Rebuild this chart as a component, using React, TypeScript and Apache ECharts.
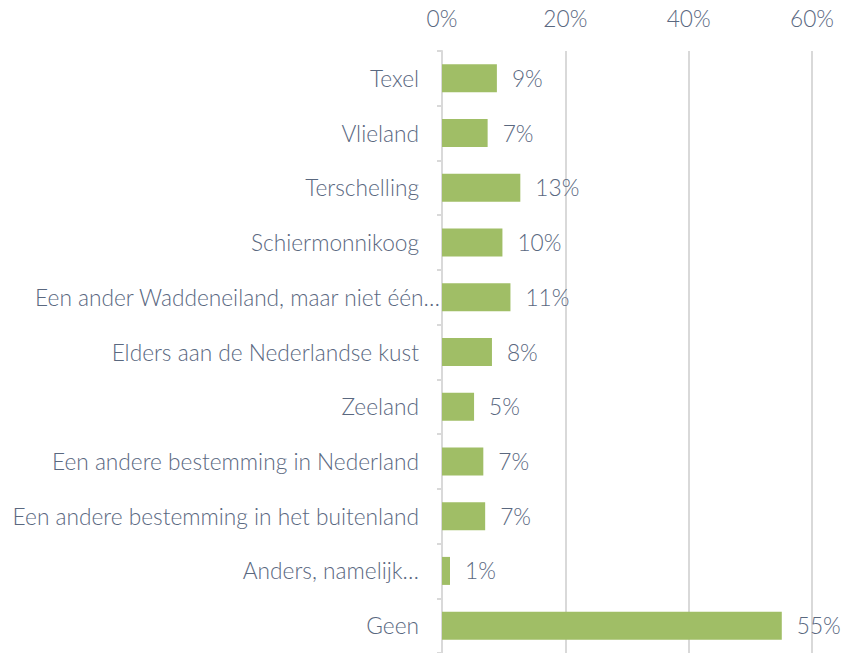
import React, { useEffect, useRef } from "react";
import * as echarts from "echarts";

const categories = [
  "Texel",
  "Vlieland",
  "Terschelling",
  "Schiermonnikoog",
  "Een ander Waddeneiland, maar niet één…",
  "Elders aan de Nederlandse kust",
  "Zeeland",
  "Een andere bestemming in Nederland",
  "Een andere bestemming in het buitenland",
  "Anders, namelijk…",
  "Geen",
];
const values = [8.9, 7.4, 12.7, 9.8, 11.1, 8.1, 5.2, 6.7, 7.0, 1.3, 55.1];
const xTicks = { min: 0, max: 60, interval: 20 };

const TEXT = "#5a687f";
const FONT = "Lato";
const FS = 22.7;

export default function App() {
  const ref = useRef<HTMLDivElement>(null);
  useEffect(() => {
    const chart = echarts.init(ref.current!, null, { renderer: "svg" });
    chart.setOption({
      animation: false,
      backgroundColor: "#ffffff",
      grid: { left: 442, right: 29, top: 51, bottom: 0, containLabel: false },
      xAxis: {
        type: "value",
        position: "top",
        min: xTicks.min,
        max: xTicks.max,
        interval: xTicks.interval,
        axisLine: { show: false },
        axisTick: { show: false },
        axisLabel: {
          formatter: "{value}%",
          color: TEXT,
          fontSize: FS,
          fontFamily: FONT,
          fontWeight: 300,
          margin: 21,
        },
        splitLine: { lineStyle: { color: "#d9d9d9", width: 2 } },
      },
      yAxis: {
        type: "category",
        inverse: true,
        data: categories,
        axisLine: { lineStyle: { color: "#d9d9d9", width: 2 } },
        axisTick: { show: true, length: 5, lineStyle: { color: "#d9d9d9", width: 2 } },
        axisLabel: {
          margin: 2,
          formatter: (v: string) =>
            v.startsWith("Een ander Waddeneiland") ? `{w|${v}}` : `{n|${v}}`,
          rich: {
            n: { color: TEXT, fontSize: FS, fontFamily: FONT, fontWeight: 300, padding: [0, 21, 0, 0] },
            w: { color: TEXT, fontSize: FS, fontFamily: FONT, fontWeight: 300, padding: [0, 0, 0, 0] },
          },
        },
      },
      series: [
        {
          type: "bar",
          data: values,
          barWidth: 28,
          itemStyle: { color: "#a0be66" },
          label: {
            show: true,
            position: "right",
            distance: 15,
            formatter: (p: any) => `${Math.round(p.value)}%`,
            color: TEXT,
            fontSize: FS,
            fontFamily: FONT,
            fontWeight: 300,
          },
        },
      ],
    });
    return () => chart.dispose();
  }, []);
  return (
    <div
      ref={ref}
      style={{ position: "fixed", left: 0, top: 0, width: 841, height: 653 }}
    />
  );
}
